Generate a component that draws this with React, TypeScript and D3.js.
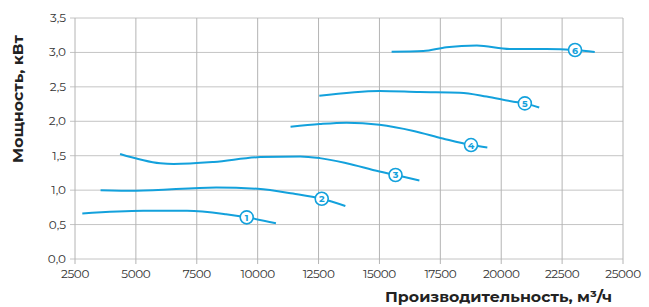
import React, { useEffect, useRef } from 'react';
import * as d3 from 'd3';

// расход, м3/ч и мощность, кВт для каждой кривой
const curve1 = [[2800, 0.66], [5300, 0.70], [7100, 0.70], [8700, 0.65], [9550, 0.605], [10750, 0.52]];
const curve2 = [[3550, 1.00], [5000, 0.99], [8300, 1.04], [10000, 1.02], [11450, 0.95], [12630, 0.875], [13600, 0.77]];
const curve3 = [[4350, 1.525], [6000, 1.39], [6550, 1.38], [8200, 1.41], [10100, 1.48], [11750, 1.49], [12550, 1.465], [13650, 1.39], [15000, 1.27], [15660, 1.22], [16640, 1.14]];
const curve4 = [[11350, 1.92], [12550, 1.96], [13650, 1.98], [15000, 1.95], [16400, 1.86], [17600, 1.75], [18760, 1.655], [19430, 1.62]];
const curve5 = [[12530, 2.37], [15000, 2.44], [16650, 2.425], [18300, 2.415], [19400, 2.36], [20500, 2.285], [20970, 2.26], [21560, 2.20]];
const curve6 = [[15500, 3.01], [16800, 3.02], [17750, 3.075], [19000, 3.10], [20350, 3.05], [21850, 3.05], [23030, 3.035], [23840, 3.005]];

const curves = [curve1, curve2, curve3, curve4, curve5, curve6];
// точка метки на кривой (индекс)
const labelIndex = [4, 5, 9, 6, 6, 6];

const xTicks = [2500, 5000, 7500, 10000, 12500, 15000, 17500, 20000, 22500, 25000];
const yTicks = [0, 0.5, 1, 1.5, 2, 2.5, 3, 3.5];

const blue = '#13a1dc';

export default function App() {
  const svgRef = useRef<SVGSVGElement>(null);

  useEffect(() => {
    const svg = d3.select(svgRef.current);
    svg.selectAll('*').remove();

    const width = 649;
    const height = 307;
    const left = 75, right = 623, top = 18, bottom = 259;

    const x = d3.scaleLinear().domain([2500, 25000]).range([left, right]);
    const y = d3.scaleLinear().domain([0, 3.5]).range([bottom, top]);

    svg.attr('width', width).attr('height', height);

    const font = 'Montserrat, "Open Sans", sans-serif';

    // сетка
    svg.append('g')
      .selectAll('line')
      .data(yTicks)
      .enter().append('line')
      .attr('x1', left - 5).attr('x2', right)
      .attr('y1', d => y(d)).attr('y2', d => y(d))
      .attr('stroke', '#c4c4c4').attr('stroke-width', 1);

    svg.append('g')
      .selectAll('line')
      .data(xTicks)
      .enter().append('line')
      .attr('x1', d => x(d)).attr('x2', d => x(d))
      .attr('y1', top).attr('y2', bottom + 5)
      .attr('stroke', '#b4b4b4').attr('stroke-width', 1);

    // подписи осей
    svg.append('g')
      .selectAll('text')
      .data(yTicks)
      .enter().append('text')
      .attr('x', left - 9)
      .attr('y', d => y(d) + 4)
      .attr('text-anchor', 'end')
      .attr('font-family', font)
      .attr('font-size', 12)
      .attr('fill', '#333')
      .text(d => d.toFixed(1).replace('.', ','));

    svg.append('g')
      .selectAll('text')
      .data(xTicks)
      .enter().append('text')
      .attr('x', d => x(d))
      .attr('y', bottom + 19)
      .attr('text-anchor', 'middle')
      .attr('font-family', font)
      .attr('font-size', 12)
      .attr('letter-spacing', -0.4)
      .attr('fill', '#333')
      .text(d => String(d));

    svg.append('text')
      .attr('transform', 'translate(23,163) rotate(-90)')
      .attr('font-family', font)
      .attr('font-size', 13.5)
      .attr('font-weight', 'bold')
      .attr('fill', '#222')
      .attr('textLength', 128)
      .attr('lengthAdjust', 'spacingAndGlyphs')
      .text('Мощность, кВт');

    svg.append('text')
      .attr('x', 385)
      .attr('y', 302)
      .attr('font-family', font)
      .attr('font-size', 14.5)
      .attr('font-weight', 'bold')
      .attr('fill', '#222')
      .attr('textLength', 227)
      .attr('lengthAdjust', 'spacingAndGlyphs')
      .text('Производительность, м³/ч');

    // кривые
    const line = d3.line<number[]>()
      .x(d => x(d[0]))
      .y(d => y(d[1]))
      .curve(d3.curveMonotoneX);

    svg.append('g')
      .selectAll('path')
      .data(curves)
      .enter().append('path')
      .attr('d', d => line(d))
      .attr('fill', 'none')
      .attr('stroke', blue)
      .attr('stroke-width', 2);

    // номера кривых
    const marks = svg.append('g')
      .selectAll('g')
      .data(curves.map((c, i) => ({ p: c[labelIndex[i]], n: i + 1 })))
      .enter().append('g')
      .attr('transform', d => `translate(${x(d.p[0])},${y(d.p[1])})`);

    marks.append('circle')
      .attr('r', 6.5)
      .attr('fill', '#fff')
      .attr('stroke', blue)
      .attr('stroke-width', 1.6);

    marks.append('text')
      .attr('y', 3.5)
      .attr('text-anchor', 'middle')
      .attr('font-family', font)
      .attr('font-size', 9.5)
      .attr('font-weight', 'bold')
      .attr('fill', blue)
      .text(d => String(d.n));
  }, []);

  return <svg ref={svgRef} style={{ position: 'absolute', left: 0, top: 0 }}></svg>;
}
